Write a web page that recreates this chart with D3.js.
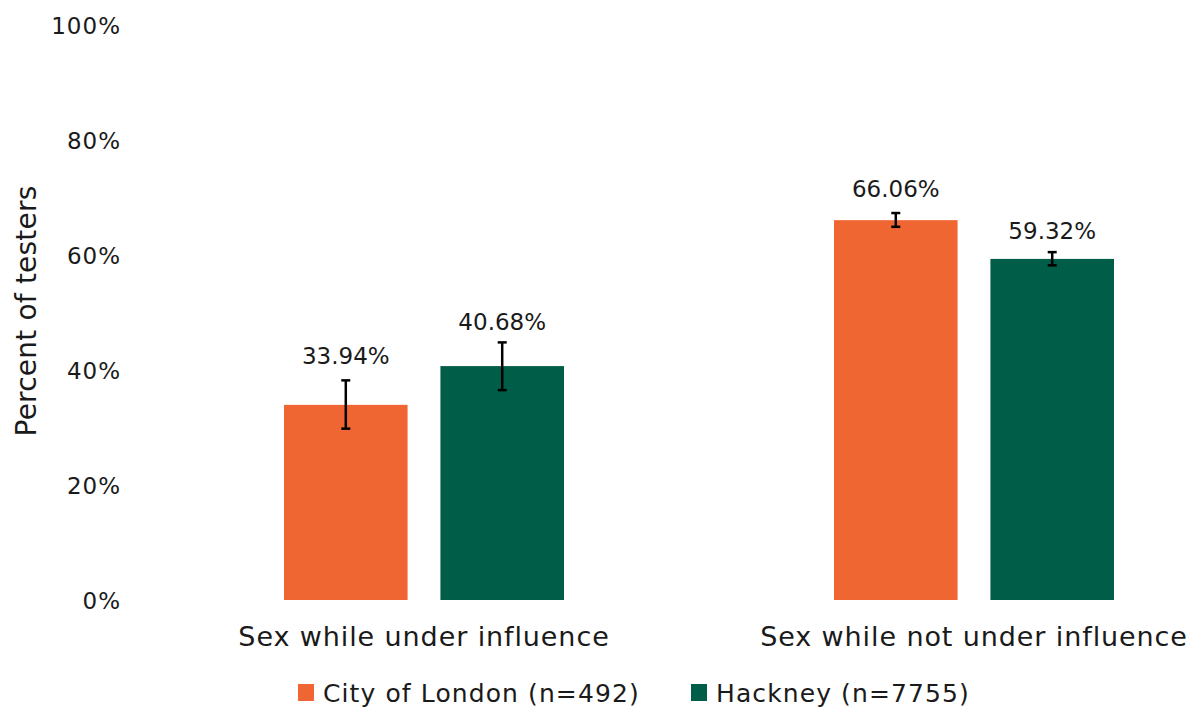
<!DOCTYPE html>
<html><head><meta charset="utf-8">
<script src="https://cdn.jsdelivr.net/npm/d3@7"></script>
<style>
body{margin:0;background:#fff;}
text{font-family:"DejaVu Sans",sans-serif;fill:#1a1a1a;}
</style></head>
<body>
<svg id="c" width="1194" height="709"></svg>
<script>
const categories = ["Sex while under influence", "Sex while not under influence"];
const seriesNames = ["City of London (n=492)", "Hackney (n=7755)"];
const seriesColors = ["#F06632", "#005E48"];
const cityValues = [33.94, 66.06];
const hackneyValues = [40.68, 59.32];
const cityLow = [29.8, 64.9];
const cityHigh = [38.2, 67.3];
const hackneyLow = [36.5, 58.2];
const hackneyHigh = [44.8, 60.5];
const yTicks = [0, 20, 40, 60, 80, 100];

const FONT = '"DejaVu Sans",sans-serif';
const svg = d3.select("#c");
const y = d3.scaleLinear().domain([0, 100]).range([600, 25]);
const x0 = d3.scaleBand().domain(categories).range([149, 1249]).padding(0);
const x1 = d3.scaleBand().domain(seriesNames).range([135, 415]).paddingInner(0.21).paddingOuter(0);
const labelGap = [16.5, 12.7];

const data = [];
categories.forEach((c, i) => {
  data.push({cat: c, s: seriesNames[0], si: 0, v: cityValues[i], lo: cityLow[i], hi: cityHigh[i], col: seriesColors[0]});
  data.push({cat: c, s: seriesNames[1], si: 1, v: hackneyValues[i], lo: hackneyLow[i], hi: hackneyHigh[i], col: seriesColors[1]});
});

// y axis
const yAxis = d3.axisLeft(y).tickValues(yTicks).tickFormat(d => d + "%").tickSize(0).tickPadding(0);
const ya = svg.append("g").attr("transform", "translate(121,0)").call(yAxis);
ya.select(".domain").remove();
ya.selectAll("text").attr("font-size", 23).attr("dy", "0.36em").attr("letter-spacing", 1)
  .style("font-family", FONT).attr("fill", "#1a1a1a");

svg.append("text").attr("transform", "translate(36,311) rotate(-90)")
  .attr("text-anchor", "middle").attr("font-size", 28).attr("letter-spacing", 0.2).text("Percent of testers");

// bars
const g = svg.append("g");
g.selectAll("rect").data(data).join("rect")
  .attr("x", d => x0(d.cat) + x1(d.s))
  .attr("width", x1.bandwidth())
  .attr("y", d => y(d.v))
  .attr("height", d => y(0) - y(d.v))
  .attr("fill", d => d.col);

// error bars
const cx = d => x0(d.cat) + x1(d.s) + x1.bandwidth() / 2;
const eb = g.selectAll("g.eb").data(data).join("g").attr("class", "eb")
  .attr("stroke", "#000").attr("stroke-width", 2.5);
eb.append("line").attr("x1", cx).attr("x2", cx).attr("y1", d => y(d.lo)).attr("y2", d => y(d.hi));
eb.append("line").attr("x1", d => cx(d) - 4.5).attr("x2", d => cx(d) + 4.5).attr("y1", d => y(d.lo)).attr("y2", d => y(d.lo));
eb.append("line").attr("x1", d => cx(d) - 4.5).attr("x2", d => cx(d) + 4.5).attr("y1", d => y(d.hi)).attr("y2", d => y(d.hi));

// value labels
g.selectAll("text.val").data(data).join("text").attr("class", "val")
  .attr("x", cx).attr("y", d => y(d.hi) - labelGap[d.si])
  .attr("text-anchor", "middle").attr("font-size", 23)
  .text(d => d.v.toFixed(2) + "%");

// x axis labels
const xAxis = d3.axisBottom(x0).tickSize(0).tickPadding(0);
const xa = svg.append("g").attr("transform", "translate(0,627)").call(xAxis);
xa.select(".domain").remove();
xa.selectAll("text").attr("font-size", 27).attr("dy", "0.71em").attr("letter-spacing", 0.9)
  .style("font-family", FONT).attr("fill", "#1a1a1a");
xa.selectAll(".tick").attr("transform", d => `translate(${x0(d) + (x1.range()[0] + x1.range()[1]) / 2},0)`);

// legend
const legX = [298, 691];
const leg = svg.append("g").selectAll("g").data(seriesNames).join("g")
  .attr("transform", (d, i) => `translate(${legX[i]},684)`);
leg.append("rect").attr("width", 16).attr("height", 17).attr("fill", (d, i) => seriesColors[i]);
leg.append("text").attr("x", 25).attr("y", 18).attr("font-size", 25).attr("letter-spacing", 1.1).text(d => d);
</script>
</body></html>
